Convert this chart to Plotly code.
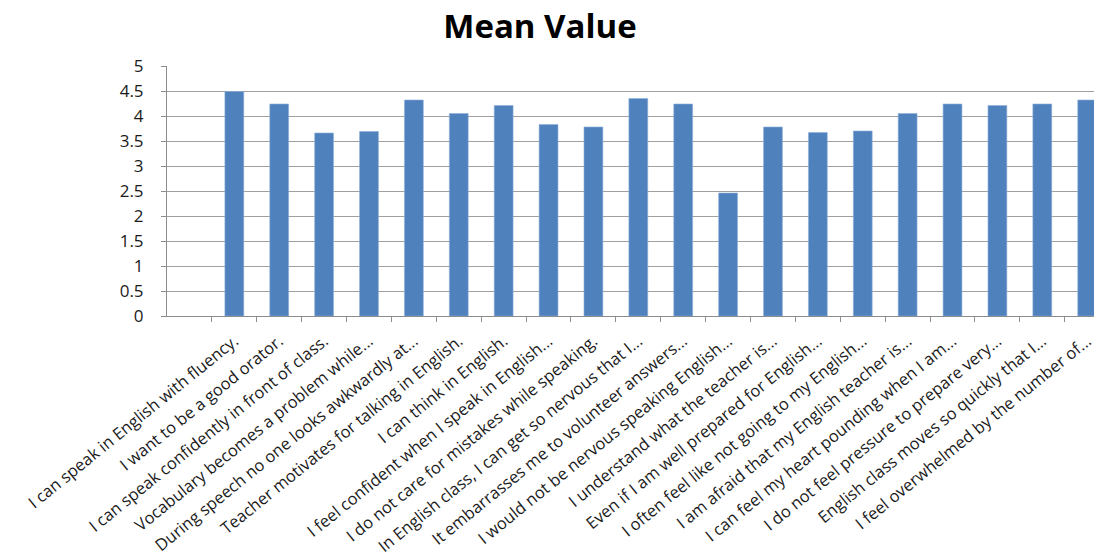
import plotly.graph_objects as go

categories = [
    "I can speak in English with fluency.",
    "I want to be a good orator.",
    "I can speak confidently in front of class.",
    "Vocabulary becomes a problem while...",
    "During speech no one looks awkwardly at...",
    "Teacher motivates for talking in English.",
    "I can think in English.",
    "I feel confident when I speak in English...",
    "I do not care for mistakes while speaking.",
    "In English class, I can get so nervous that I...",
    "It embarrasses me to volunteer answers...",
    "I would not be nervous speaking English...",
    "I understand what the teacher is...",
    "Even if I am well prepared for English...",
    "I often feel like not going to my English...",
    "I am afraid that my English teacher is...",
    "I can feel my heart pounding when I am...",
    "I do not feel pressure to prepare very...",
    "English class moves so quickly that I...",
    "I feel overwhelmed by the number of...",
]
mean_values = [4.49, 4.24, 3.66, 3.69, 4.32, 4.05, 4.21, 3.83, 3.78, 4.35,
               4.24, 2.46, 3.78, 3.67, 3.70, 4.05, 4.24, 4.21, 4.24, 4.32]
y_ticks = [0, 0.5, 1, 1.5, 2, 2.5, 3, 3.5, 4, 4.5, 5]

fig = go.Figure(go.Bar(
    x=categories,
    y=mean_values,
    marker=dict(color="#4F81BD", line=dict(color="#8FB0DA", width=0.6)),
))

W, H = 1094, 545
fig.update_layout(
    width=W, height=H,
    margin=dict(l=159, r=0, t=58, b=237),
    paper_bgcolor="white", plot_bgcolor="white",
    bargap=0.58,
    showlegend=False,
    font=dict(family="Open Sans", color="#1a1a1a"),
    title=dict(text="<b>Mean Value</b>", x=532 / W, xref="container", xanchor="center",
               y=1 - 18 / H, yref="container", yanchor="middle",
               font=dict(family="Open Sans", size=33, color="#000000")),
)
fig.update_xaxes(
    type="category",
    range=[-1.5, 19.33],
    automargin=False,
    tickangle=-39,
    tickfont=dict(size=16.5, family="Open Sans", color="#1a1a1a"),
    tickson="boundaries",
    ticks="outside", ticklen=5, tickcolor="#8c8c8c",
    ticklabelstandoff=8,
    showline=True, linecolor="#8c8c8c", linewidth=1,
    showgrid=False,
)
fig.update_yaxes(
    range=[0, 5],
    automargin=False,
    tickvals=y_ticks,
    ticktext=[f"{v:g}" for v in y_ticks],
    tickfont=dict(size=17, family="Open Sans", color="#1a1a1a"),
    ticks="outside", ticklen=5, tickcolor="#8c8c8c",
    ticklabelstandoff=14,
    showline=True, linecolor="#8c8c8c", linewidth=1,
    showgrid=True, gridcolor="#a0a0a0", gridwidth=1,
    zeroline=False,
)

fig.write_html("out.html")
